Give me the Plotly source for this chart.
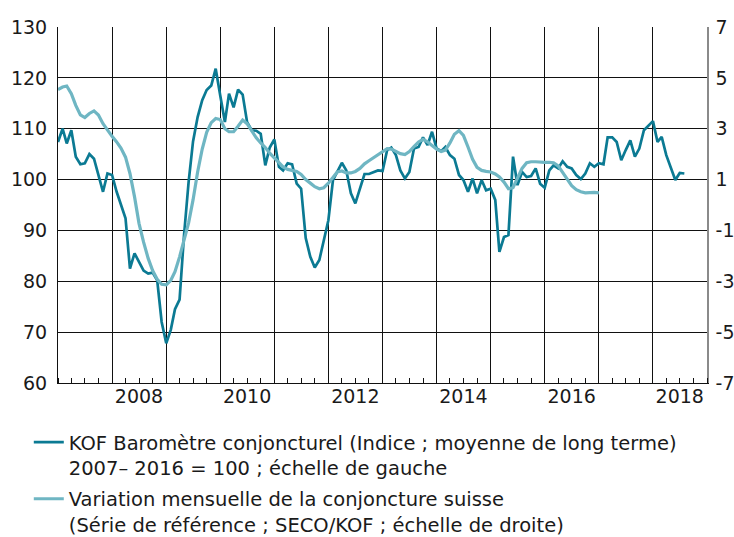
import plotly.graph_objects as go
import pandas as pd

# KOF barometer (left scale), monthly from Jan 2007
kof_values = [
    107.4, 110.0, 107.1, 109.7, 104.5, 103.0, 103.2, 105.0, 104.1, 100.9, 97.6, 101.2,
    100.9, 97.6, 95.0, 92.4, 82.5, 85.5, 83.8, 82.1, 81.5, 81.7, 80.2, 72.0,
    67.8, 70.5, 74.5, 76.4, 89.0, 99.5, 107.5, 112.3, 115.6, 117.6, 118.5, 121.8,
    116.5, 111.3, 116.9, 114.2, 117.7, 116.7, 111.3, 109.7, 109.6, 109.0, 102.8, 106.3,
    107.9, 102.5, 101.8, 103.2, 103.0, 99.2, 98.2, 88.5, 84.8, 82.7, 84.2, 87.8,
    92.0, 99.9, 101.6, 103.3, 101.8, 97.3, 95.3, 98.3, 101.1, 101.1, 101.4, 101.8,
    101.7, 105.8, 106.3, 104.8, 101.8, 100.2, 101.5, 106.1, 106.4, 108.3, 106.8, 109.4,
    106.1, 105.6, 106.4, 104.8, 104.1, 100.9, 99.9, 97.6, 100.2, 97.3, 99.9, 97.9,
    98.2, 96.0, 85.8, 88.7, 89.1, 104.5, 98.9, 101.5, 100.5, 100.7, 102.2, 99.2,
    98.4, 101.8, 102.8, 102.2, 103.6, 102.5, 102.2, 100.9, 100.1, 101.2, 103.2, 102.5,
    103.2, 103.0, 108.3, 108.3, 107.4, 103.8, 105.8, 107.7, 104.5, 106.1, 109.7, 110.5,
    111.5, 107.4, 108.4, 104.8, 102.2, 99.9, 101.3, 101.2,
]

# Reference series (right scale), monthly from Jan 2007
ref_values = [
    4.54, 4.64, 4.68, 4.38, 3.92, 3.54, 3.44, 3.60, 3.70, 3.54, 3.20, 2.94,
    2.70, 2.48, 2.24, 1.88, 1.24, 0.32, -0.72, -1.46, -2.10, -2.58, -2.92, -3.12,
    -3.14, -2.96, -2.62, -2.04, -1.40, -0.70, 0.20, 1.30, 2.20, 2.86, 3.24, 3.40,
    3.36, 3.00, 2.88, 2.88, 3.10, 3.34, 3.20, 2.92, 2.64, 2.44, 2.26, 2.04,
    1.86, 1.66, 1.50, 1.40, 1.36, 1.32, 1.20, 1.00, 0.86, 0.72, 0.64, 0.68,
    0.86, 1.10, 1.30, 1.34, 1.26, 1.26, 1.32, 1.44, 1.62, 1.74, 1.86, 1.98,
    2.12, 2.22, 2.20, 2.10, 2.02, 1.98, 2.10, 2.30, 2.48, 2.58, 2.48, 2.34,
    2.20, 2.10, 2.16, 2.44, 2.78, 2.92, 2.74, 2.28, 1.80, 1.48, 1.36, 1.32,
    1.30, 1.22, 1.10, 0.90, 0.64, 0.68, 1.04, 1.44, 1.66, 1.70, 1.70, 1.68,
    1.68, 1.68, 1.66, 1.54, 1.30, 1.02, 0.76, 0.60, 0.52, 0.48, 0.50, 0.50,
    0.48,
]

kof_dates = pd.date_range("2007-01-01", periods=len(kof_values), freq="MS")
ref_dates = pd.date_range("2007-01-01", periods=len(ref_values), freq="MS")

year_lines = [f"{y}-01-01" for y in range(2008, 2019)]
label_years = [2008, 2010, 2012, 2014, 2016, 2018]
label_pos = [f"{y}-07-01" for y in label_years]
label_text = [str(y) for y in label_years]
left_ticks = [60, 70, 80, 90, 100, 110, 120, 130]
right_ticks = [-7, -5, -3, -1, 1, 3, 5, 7]
right_text = ["-7", "-5", "-3", "-1", "1", "3", "5", "7"]

name_kof = "KOF Baromètre conjoncturel (Indice ; moyenne de long terme)<br>2007– 2016 = 100 ; échelle de gauche"
name_ref = "Variation mensuelle de la conjoncture suisse<br>(Série de référence ; SECO/KOF ; échelle de droite)"

DARK = "#0b7a93"
LIGHT = "#6fb6c3"
FONT = "DejaVu Sans, Liberation Sans, Arial, sans-serif"
TXT = "#1a1a1a"
TICK_SIZE = 19

fig = go.Figure()
# invisible helper trace so the year-label axis is drawn
fig.add_trace(go.Scatter(x=kof_dates, y=kof_values, mode="lines", showlegend=False,
                         hoverinfo="skip", line=dict(color="rgba(0,0,0,0)", width=0),
                         xaxis="x2", yaxis="y"))
fig.add_trace(go.Scatter(x=kof_dates, y=kof_values, mode="lines", name=name_kof,
                         legendgroup="kof",
                         line=dict(color=DARK, width=2.7), xaxis="x", yaxis="y"))
fig.add_trace(go.Scatter(x=ref_dates, y=ref_values, mode="lines", name=name_ref,
                         legendgroup="ref",
                         line=dict(color=LIGHT, width=3.2), xaxis="x", yaxis="y2"))

xr = ["2007-01-01", "2019-01-01"]
fig.update_layout(
    width=734, height=537,
    margin=dict(l=58, r=27, t=27, b=154, autoexpand=False),
    paper_bgcolor="white", plot_bgcolor="white",
    font=dict(family=FONT, size=TICK_SIZE, color=TXT),
    xaxis=dict(type="date", range=xr, tickmode="array", tickvals=year_lines,
               showticklabels=False, ticks="", showgrid=True, gridcolor="#111",
               gridwidth=1, showline=True, linecolor="#111", linewidth=1,
               zeroline=False, automargin=False,
               minor=dict(ticks="inside", ticklen=5, tickcolor="#111", tickwidth=1,
                          dtick="M3", tick0="2007-01-01", showgrid=False)),
    xaxis2=dict(type="date", range=xr, overlaying="x", anchor="y", side="bottom",
                tickmode="array", tickvals=label_pos, ticktext=label_text,
                ticks="", showgrid=False, showline=False, zeroline=False,
                automargin=False,
                tickfont=dict(size=TICK_SIZE, color=TXT), ticklabelstandoff=0),
    yaxis=dict(range=[60, 130], tickmode="array", tickvals=left_ticks,
               showgrid=True, gridcolor="#111", gridwidth=1, zeroline=False,
               showline=True, linecolor="#111", linewidth=1, ticks="",
               automargin=False,
               tickfont=dict(size=TICK_SIZE, color=TXT), ticklabelstandoff=6),
    yaxis2=dict(range=[-7, 7], overlaying="y", side="right", tickmode="array",
                tickvals=right_ticks, ticktext=right_text, showgrid=False,
                zeroline=False, showline=True, linecolor="#8a8a8a", linewidth=1.5,
                ticks="", automargin=False,
                tickfont=dict(size=TICK_SIZE, color=TXT), ticklabelstandoff=3),
    showlegend=True,
    legend=dict(x=-0.045, y=-0.112, xanchor="left", yanchor="top",
                orientation="v", valign="top", bgcolor="rgba(0,0,0,0)",
                font=dict(size=19.5, color=TXT, family=FONT), tracegroupgap=3),
)

fig.write_html("out.html", config={"displayModeBar": False},
               post_script="document.body.style.margin='0';")
